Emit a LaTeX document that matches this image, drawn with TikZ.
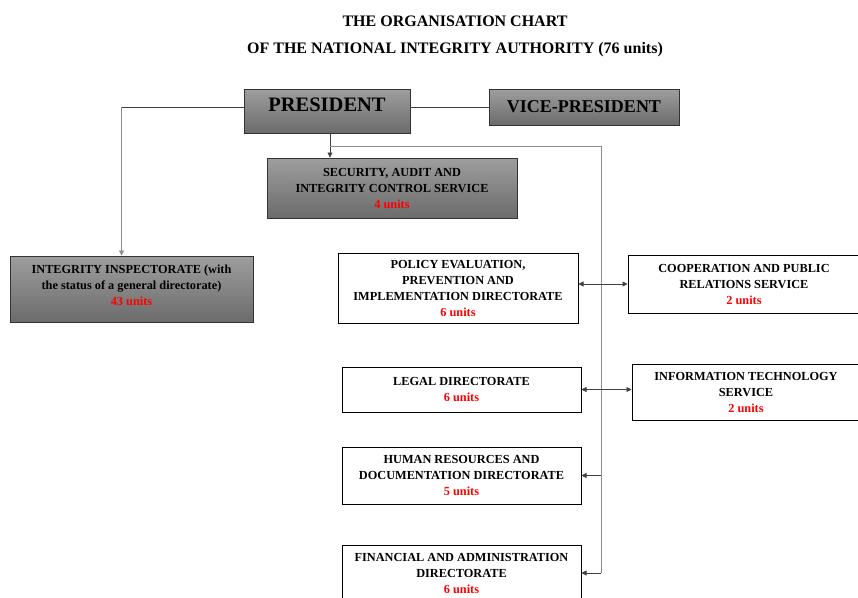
\documentclass[tikz,border=0pt]{standalone}
\usepackage{fontspec}
\setmainfont{Liberation Serif}
\usetikzlibrary{arrows.meta,calc}
\begin{document}
\begin{tikzpicture}[x=1pt,y=-1pt,
  graybox/.style={draw=black!80,line width=0.9pt,top color=black!38,bottom color=black!58,
    align=center,inner sep=2pt,font=\bfseries\fontsize{12.3}{16}\selectfont},
  whitebox/.style={draw=black,line width=1pt,fill=white,align=center,inner sep=2pt,
    font=\bfseries\fontsize{12.3}{16}\selectfont},
  conn/.style={draw=black!75,line width=0.7pt},
  lconn/.style={draw=black!45,line width=0.8pt},
  tip/.style={-{Triangle[length=5pt,width=5pt]}},
  dtip/.style={{Triangle[length=5pt,width=5pt]}-{Triangle[length=5pt,width=5pt]}}
]
\useasboundingbox (0,0) rectangle (858,597);
\clip (0,0) rectangle (858,597);
\node[font=\bfseries\fontsize{16}{18}\selectfont] (t1) at (455,21) {THE ORGANISATION CHART};
\node[font=\bfseries\fontsize{16}{18}\selectfont] (t2) at (455,50) {OF THE NATIONAL INTEGRITY AUTHORITY (76 units)};

\node[graybox,minimum width=166,minimum height=44,text height=13pt,text depth=13pt,font=\bfseries\fontsize{20.5}{22}\selectfont] (pres) at (327,111) {PRESIDENT};
\node[graybox,minimum width=190,minimum height=36,font=\bfseries\fontsize{18}{20}\selectfont] (vp) at (584,107) {VICE-PRESIDENT};
\node[graybox,minimum width=250,minimum height=60] (sec) at (392,188) {SECURITY, AUDIT AND\\INTEGRITY CONTROL SERVICE\\{\color{red}4 units}};
\node[graybox,minimum width=243,minimum height=66,text depth=8pt] (integ) at (131.5,289) {INTEGRITY INSPECTORATE (with\\the status of a general directorate)\\{\color{red}43 units}};

\node[whitebox,minimum width=240,minimum height=70] (pol) at (458,288) {POLICY EVALUATION,\\PREVENTION AND\\IMPLEMENTATION DIRECTORATE\\{\color{red}6 units}};
\node[whitebox,minimum width=232,minimum height=58] (coop) at (744,284) {COOPERATION AND PUBLIC\\RELATIONS SERVICE\\{\color{red}2 units}};
\node[whitebox,minimum width=239,minimum height=45] (leg) at (461.5,389.5) {LEGAL DIRECTORATE\\{\color{red}6 units}};
\node[whitebox,minimum width=228,minimum height=56] (it) at (746,392) {INFORMATION TECHNOLOGY\\SERVICE\\{\color{red}2 units}};
\node[whitebox,minimum width=239,minimum height=57] (hr) at (461.5,475.5) {HUMAN RESOURCES AND\\DOCUMENTATION DIRECTORATE\\{\color{red}5 units}};
\node[whitebox,minimum width=239,minimum height=56] (fin) at (461.5,573) {FINANCIAL AND ADMINISTRATION\\DIRECTORATE\\{\color{red}6 units}};

\coordinate (bus) at (601,146);
\coordinate (inA) at ([xshift=112pt]integ.north west);

\draw[conn] (pres.east |- vp.west) -- (vp.west);
\draw[conn] (pres.west |- vp.west) -- (pres.west |- vp.west -| inA);
\draw[lconn,tip] (pres.west |- vp.west -| inA) -- (inA);
\draw[conn,tip] ([xshift=3pt]pres.south) -- ([xshift=3pt]pres.south |- sec.north);
\draw[lconn] ([xshift=3pt]pres.south |- bus) -- (bus) -- (bus |- fin.east);
\draw[conn,tip] (bus |- fin.east) -- (fin.east);
\draw[conn,tip] (bus |- hr.east) -- (hr.east);
\draw[conn,dtip] (coop.west -| pol.east) -- (coop.west);
\draw[conn,dtip] (leg.east) -- (leg.east -| it.west);
\end{tikzpicture}
\end{document}
